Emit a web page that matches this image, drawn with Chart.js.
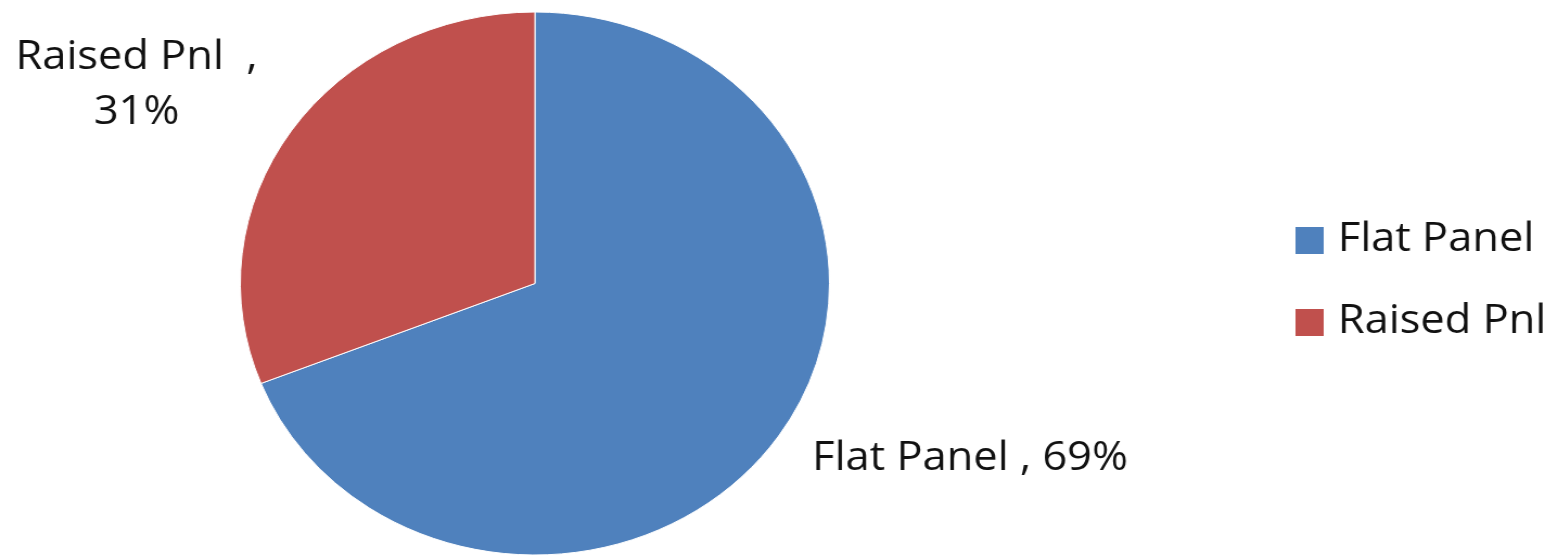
<!DOCTYPE html>
<html lang="en">
<head>
    <meta charset="UTF-8">
    <title>Flat Panel vs Raised Pnl</title>
    <script src="https://cdn.jsdelivr.net/npm/chart.js"></script>
    <style>
        html, body { margin: 0; padding: 0; background: #fff; overflow: hidden; }
        /* the original picture is a little wider than tall, so stretch the whole chart */
        .chart-box {
            width: 1435px;
            height: 556px;
            transform: scaleX(1.085);
            transform-origin: 0 0;
        }
    </style>
</head>
<body>
    <div class="chart-box">
        <canvas id="pieChart"></canvas>
    </div>

    <script>
        const labels = ['Flat Panel', 'Raised Pnl '];
        const shares = [69, 31];
        const colors = ['#4F81BD', '#C0504D'];

        const FONT = '40px "Open Sans", "Liberation Sans", sans-serif';

        // data labels outside each slice, "label , 69%"
        const sliceLabels = {
            id: 'sliceLabels',
            afterDatasetsDraw(chart) {
                const ctx = chart.ctx;
                const meta = chart.getDatasetMeta(0);
                ctx.save();
                ctx.font = FONT;
                ctx.fillStyle = '#111';
                ctx.textBaseline = 'middle';
                ctx.textAlign = 'center';
                meta.data.forEach((arc, i) => {
                    const mid = (arc.startAngle + arc.endAngle) / 2;
                    const cos = Math.cos(mid), sin = Math.sin(mid);
                    const lines = i === 1
                        ? [labels[i] + ' ,', shares[i] + '%']
                        : [labels[i] + ' , ' + shares[i] + '%'];
                    const w = Math.max(...lines.map(l => ctx.measureText(l).width));
                    const lh = 55, h = (lines.length - 1) * lh + 38;
                    const cx = arc.x + arc.outerRadius * cos + (cos < 0 ? -31 : 31);
                    const cy = arc.y + arc.outerRadius * sin + (sin < 0 ? 1 : 4);
                    const left = cos < 0 ? cx - w : cx;
                    const top = sin < 0 ? cy - h : cy;
                    lines.forEach((l, j) => {
                        ctx.fillText(l, left + w / 2, top + 19 + j * lh);
                    });
                });
                ctx.restore();
            }
        };

        // legend on the right, drawn by hand so it sits where the original has it
        const sideLegend = {
            id: 'sideLegend',
            afterDraw(chart) {
                const ctx = chart.ctx;
                ctx.save();
                ctx.font = FONT;
                ctx.textBaseline = 'middle';
                ctx.textAlign = 'left';
                labels.forEach((l, i) => {
                    const y = 240 + i * 82;
                    ctx.fillStyle = colors[i];
                    ctx.fillRect(1194, y - 13, 26, 27);
                    ctx.fillStyle = '#111';
                    ctx.fillText(l.trim(), 1233, y);
                });
                ctx.restore();
            }
        };

        new Chart(document.getElementById('pieChart'), {
            type: 'pie',
            data: {
                labels: labels,
                datasets: [{
                    data: shares,
                    backgroundColor: colors,
                    borderColor: '#ffffff',
                    borderWidth: 1
                }]
            },
            options: {
                responsive: true,
                maintainAspectRatio: false,
                animation: false,
                layout: { padding: { left: 221, right: 670, top: 11, bottom: 0 } },
                plugins: {
                    legend: { display: false },
                    tooltip: { enabled: false }
                }
            },
            plugins: [sliceLabels, sideLegend]
        });
    </script>
</body>
</html>
